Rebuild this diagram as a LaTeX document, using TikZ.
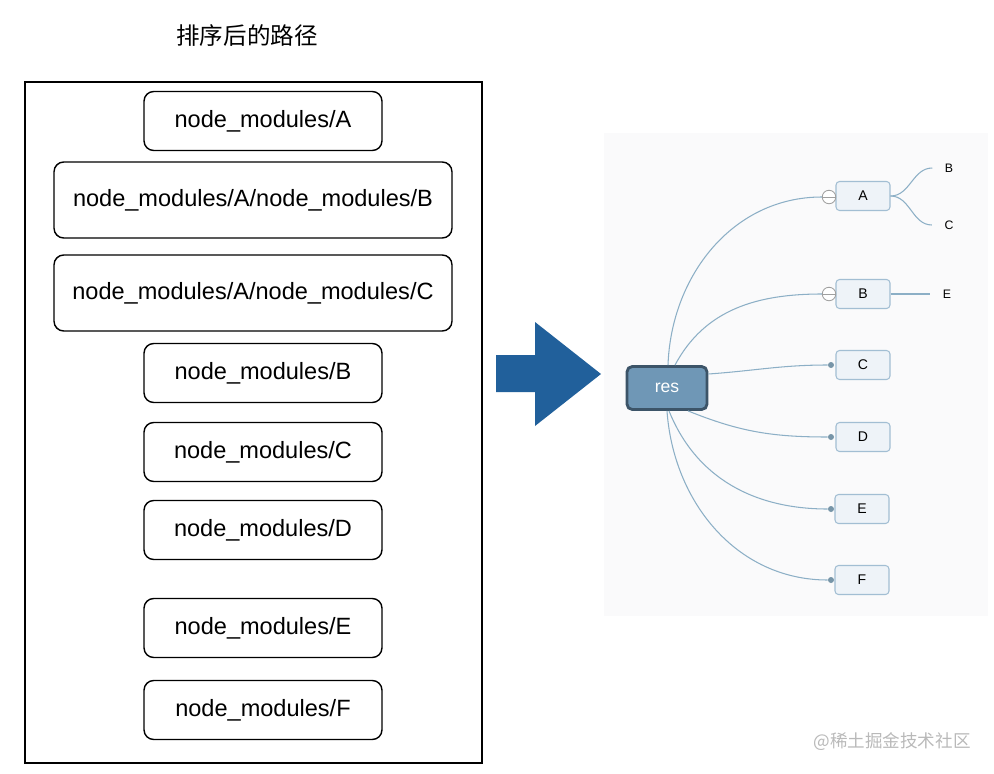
\documentclass[tikz,border=0pt]{standalone}
\usepackage{fontspec}
\setmainfont{Liberation Sans}
\newfontfamily\cjk{Noto Sans CJK SC}
\definecolor{arrowblue}{HTML}{21609B}
\definecolor{resfill}{HTML}{6F97B6}
\definecolor{resline}{HTML}{3C5468}
\definecolor{leaffill}{HTML}{EEF3F8}
\definecolor{leafline}{HTML}{A2BED3}
\definecolor{branch}{HTML}{8CAFC6}
\definecolor{panel}{HTML}{FAFAFB}
\tikzset{
  PathStyle/.style={draw, rounded corners=5.5pt, line width=0.8pt, minimum width=4.76cm,
    minimum height=1.18cm, font=\fontsize{13.4}{16}\selectfont},
  EdgeStyle/.style={draw=branch, line width=0.6pt}
}

\begin{document}
\begin{tikzpicture}[x=0.02cm, y=-0.02cm]
    \useasboundingbox (0,0) rectangle (994,774);

    % left: sorted paths
    \node[font=\cjk\fontsize{13.4}{16}\selectfont] (title) at (247,36) {排序后的路径};
    \draw[line width=0.9pt] (25,82) rectangle (482,763);

    \node[PathStyle] (pA)  at (263,121) {node\_modules/A};
    \tikzset{PathStyle/.append style={minimum width=7.96cm, minimum height=1.52cm}}
    \node[PathStyle] (pAB) at (253,200) {node\_modules/A/node\_modules/B};
    \node[PathStyle] (pAC) at (253,293) {node\_modules/A/node\_modules/C};
    \tikzset{PathStyle/.append style={minimum width=4.76cm, minimum height=1.18cm}}
    \node[PathStyle] (pB)  at (263,373) {node\_modules/B};
    \node[PathStyle] (pC)  at (263,452) {node\_modules/C};
    \node[PathStyle] (pD)  at (263,530) {node\_modules/D};
    \node[PathStyle] (pE)  at (263,628) {node\_modules/E};
    \node[PathStyle] (pF)  at (263,710) {node\_modules/F};

    % big arrow
    \fill[arrowblue] (496,355) -- (535,355) -- (535,322) -- (601,374)
        -- (535,426) -- (535,392) -- (496,392) -- cycle;

    % right: mind map
    \fill[panel] (604,133) rectangle (988,616);

    \tikzset{VertexStyle/.style={draw=resline, fill=resfill, line width=1.6pt, rounded corners=3pt,
      minimum width=1.6cm, minimum height=0.86cm, text=white, font=\fontsize{10}{12}\selectfont}}
    \node[VertexStyle] (res) at (667,388) {res};

    \tikzset{VertexStyle/.style={draw=leafline, fill=leaffill, line width=0.6pt, rounded corners=2pt,
      minimum width=1.08cm, minimum height=0.58cm, font=\fontsize{8}{10}\selectfont}}
    \node[VertexStyle] (A) at (863,196) {A};
    \node[VertexStyle] (B) at (863,294) {B};
    \node[VertexStyle] (C) at (863,365) {C};
    \node[VertexStyle] (D) at (863,437) {D};
    \node[VertexStyle] (E) at (862,509) {E};
    \node[VertexStyle] (F) at (862,580) {F};

    \tikzset{FoldStyle/.style={circle, draw=gray!75, fill=white, line width=0.5pt,
      minimum size=0.27cm, inner sep=0pt}}
    \node[FoldStyle] (fA) at (829,197) {};
    \node[FoldStyle] (fB) at (829,294) {};

    \tikzset{DotStyle/.style={circle, fill=branch!85!black, minimum size=0.12cm, inner sep=0pt}}
    \node[DotStyle] (dC) at (831,365) {};
    \node[DotStyle] (dD) at (831,437) {};
    \node[DotStyle] (dE) at (831,509) {};
    \node[DotStyle] (dF) at (831,580) {};

    \tikzset{SubStyle/.style={inner xsep=7pt, inner ysep=0pt, font=\fontsize{7}{8}\selectfont}}
    \node[SubStyle] (aB) at (949,168) {B};
    \node[SubStyle] (aC) at (949,225) {C};
    \node[SubStyle] (bE) at (947,294) {E};

    \path[EdgeStyle] ([xshift=0.02cm]res.north) to[out=88, in=180] (fA.west);
    \path[EdgeStyle] ([xshift=0.16cm]res.north) to[out=62, in=180] (fB.west);
    \path[EdgeStyle] ([yshift=0.28cm]res.east) to[out=4, in=180] (dC);
    \path[EdgeStyle] ([xshift=0.42cm]res.south) to[out=-22, in=180] (dD);
    \path[EdgeStyle] ([xshift=0.04cm]res.south) to[out=-68, in=180] (dE);
    \path[EdgeStyle] (res.south) to[out=-86, in=180] (dF);
    \draw[gray!75, line width=0.5pt] (fA.west) -- (fA.east);
    \draw[gray!75, line width=0.5pt] (fB.west) -- (fB.east);

    \path[EdgeStyle] (A.east) to[out=0, in=180] (aB.west);
    \path[EdgeStyle] (A.east) to[out=0, in=180] (aC.west);
    \path[EdgeStyle] (B.east) -- (bE.west);

    \node[text=gray!55, font=\cjk\fontsize{10}{12}\selectfont] (mark) at (892,742) {@稀土掘金技术社区};
\end{tikzpicture}
\end{document}
